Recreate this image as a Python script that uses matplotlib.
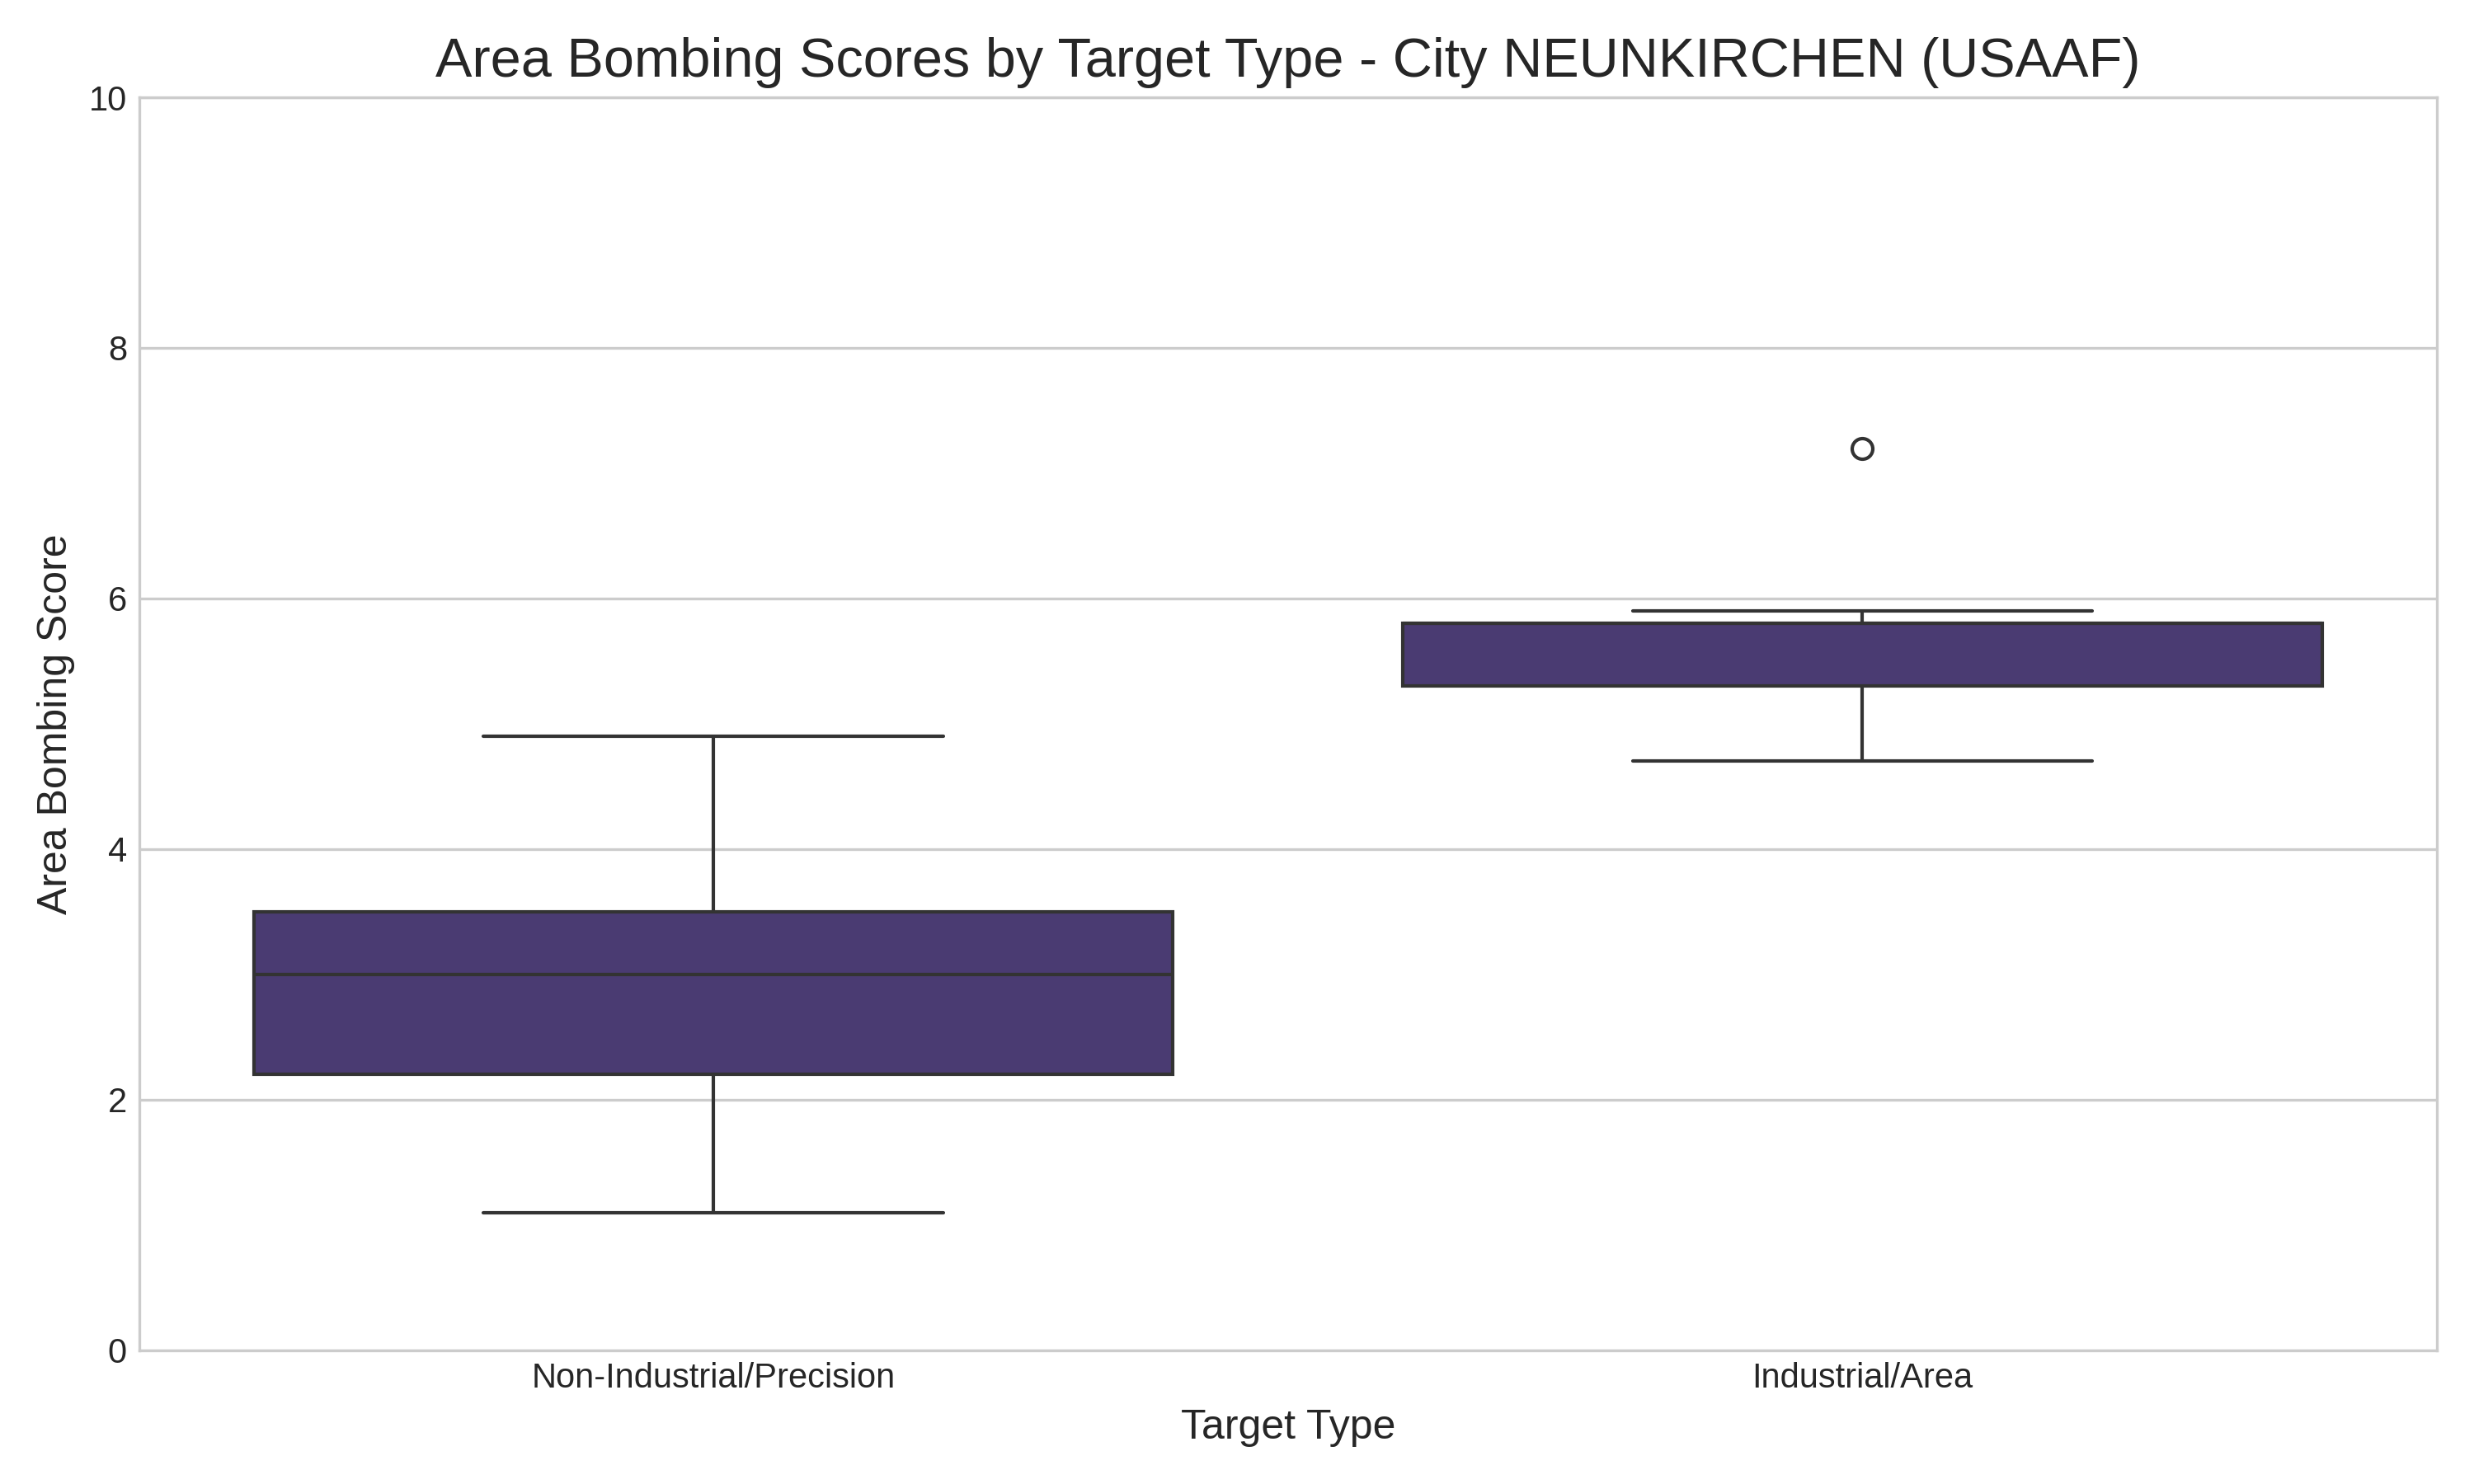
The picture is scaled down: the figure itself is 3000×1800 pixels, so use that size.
import matplotlib
matplotlib.use("Agg")
import matplotlib.pyplot as plt

# Box summaries
categories = ["Non-Industrial/Precision", "Industrial/Area"]
q1 = [2.2, 5.3]
medians = [3.0, 5.8]
q3 = [3.5, 5.8]
whisker_low = [1.1, 4.7]
whisker_high = [4.9, 5.9]
outliers = [[], [7.2]]

plt.style.use("seaborn-v0_8-whitegrid")
plt.rcParams["font.family"] = ["Liberation Sans", "DejaVu Sans"]
plt.rcParams["text.color"] = "#262626"
plt.rcParams["axes.labelcolor"] = "#262626"
plt.rcParams["xtick.color"] = "#262626"
plt.rcParams["ytick.color"] = "#262626"

stats = []
for i, name in enumerate(categories):
    stats.append({
        "label": name,
        "q1": q1[i], "med": medians[i], "q3": q3[i],
        "whislo": whisker_low[i], "whishi": whisker_high[i],
        "fliers": outliers[i],
    })

fig, ax = plt.subplots(figsize=(10, 6), dpi=300)

line_col = "#333333"
box_col = "#4a3b72"
ax.bxp(stats, positions=range(len(categories)), widths=0.8, patch_artist=True,
       boxprops=dict(facecolor=box_col, edgecolor=line_col, linewidth=1.0),
       medianprops=dict(color=line_col, linewidth=1.0),
       whiskerprops=dict(color=line_col, linewidth=1.0),
       capprops=dict(color=line_col, linewidth=1.0),
       capwidths=0.4,
       flierprops=dict(marker="o", markerfacecolor="none", markeredgecolor=line_col,
                       markersize=6, markeredgewidth=1.0))

ax.set_xlim(-0.5, 1.5)
ax.set_ylim(0, 10)
ax.set_yticks([0, 2, 4, 6, 8, 10])
ax.grid(axis="x", visible=False)
ax.grid(axis="y", color="#cccccc", linewidth=0.8)
ax.set_axisbelow(True)
for s in ax.spines.values():
    s.set_visible(True)
    s.set_color("#cccccc")
    s.set_linewidth(0.8)

ax.tick_params(labelsize=10)
ax.set_title("Area Bombing Scores by Target Type - City NEUNKIRCHEN (USAAF)", fontsize=16)
ax.set_xlabel("Target Type", fontsize=12)
ax.set_ylabel("Area Bombing Score", fontsize=12)

plt.tight_layout()
plt.savefig("out.png", dpi=300)
